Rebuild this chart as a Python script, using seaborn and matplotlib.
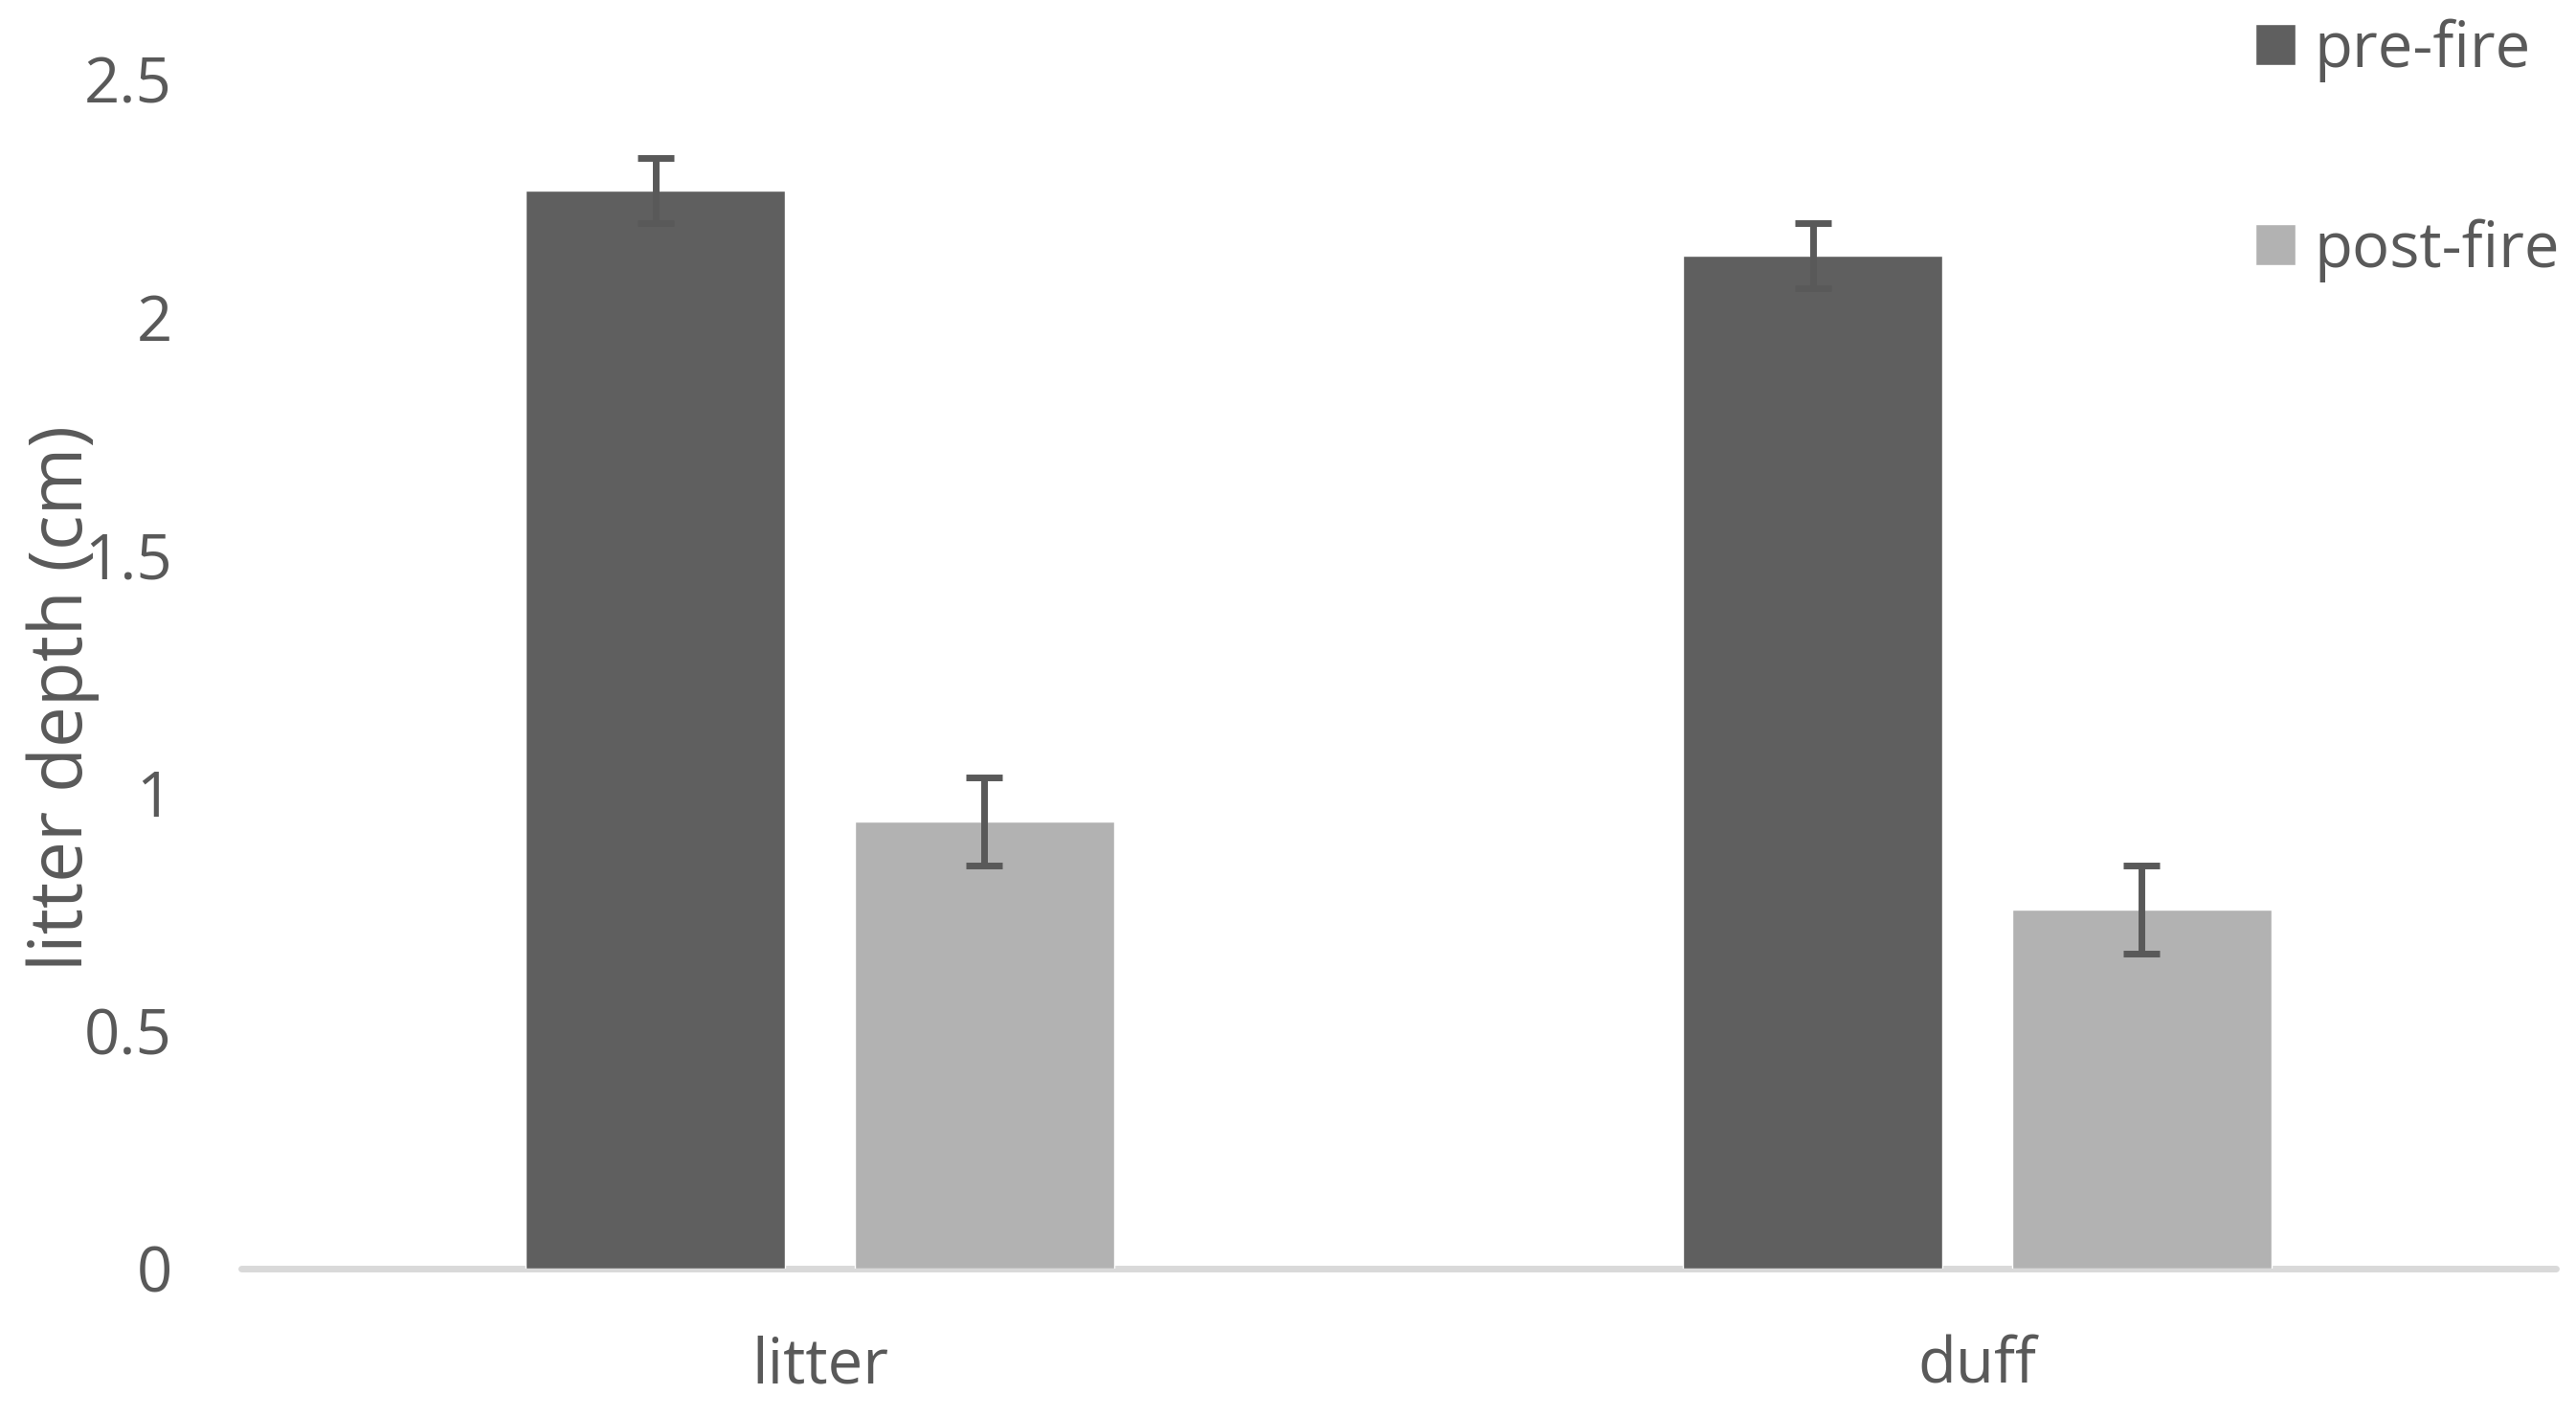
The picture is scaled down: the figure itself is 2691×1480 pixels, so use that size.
import pandas as pd
import matplotlib.pyplot as plt
import seaborn as sns

sns.set_theme(style="white")
plt.rcParams['font.family'] = ['Open Sans', 'DejaVu Sans']

# values
groups = ["litter", "duff"]
periods = ["pre-fire", "post-fire"]
pre_fire = [2.265, 2.128]
post_fire = [0.939, 0.754]
pre_fire_err = [0.068, 0.068]
post_fire_err = [0.092, 0.092]
y_ticks = [0, 0.5, 1, 1.5, 2, 2.5]

TEXT = '#595959'
palette = ['#5f5f5f', '#b2b2b2']

df = pd.DataFrame({
    'group': groups * 2,
    'period': [periods[0]] * 2 + [periods[1]] * 2,
    'depth': pre_fire + post_fire,
})
errs = [pre_fire_err, post_fire_err]

W, H = 2691, 1480
fig = plt.figure(figsize=(W / 100, H / 100), dpi=100)
ax = fig.add_axes([252 / W, 155 / H, 2418 / W, 1243 / H])

sns.barplot(data=df, x='group', y='depth', hue='period', palette=palette,
            saturation=1, width=0.569, gap=0.21, errorbar=None, ax=ax)

# error bars on top of the bars seaborn drew
for cont, err in zip(ax.containers, errs):
    xs = [p.get_x() + p.get_width() / 2 for p in cont.patches]
    hs = [p.get_height() for p in cont.patches]
    ax.errorbar(xs, hs, yerr=err, fmt='none', ecolor=TEXT,
                elinewidth=5, capsize=13.7, capthick=5, zorder=3)

ax.set_xlim(-0.5, 1.5)
ax.set_ylim(0, 2.5)
ax.set_yticks(y_ticks)
ax.set_yticklabels([f"{t:g}" for t in y_ticks])
for s in ax.spines.values():
    s.set_visible(False)
ax.axhline(0, color='#d9d9d9', lw=5, zorder=0.5, clip_on=False)

ax.tick_params(axis='y', length=0, pad=52, labelsize=47, labelcolor=TEXT)
ax.tick_params(axis='x', length=0, pad=50, labelsize=47, labelcolor=TEXT)
ax.set_xlabel("")
ax.set_ylabel("litter depth (cm)", fontsize=55, color=TEXT)
ax.yaxis.set_label_coords(-0.0612, 0.4795)

sns.move_legend(ax, 'upper left', bbox_to_anchor=(2356 / W, 0.987),
                bbox_transform=fig.transFigure, title=None, frameon=False,
                fontsize=47, labelcolor=TEXT, handlelength=0.643,
                handleheight=0.643, handletextpad=0.3, labelspacing=2.18,
                borderpad=0, borderaxespad=0)

fig.savefig('out.png', dpi=100)
